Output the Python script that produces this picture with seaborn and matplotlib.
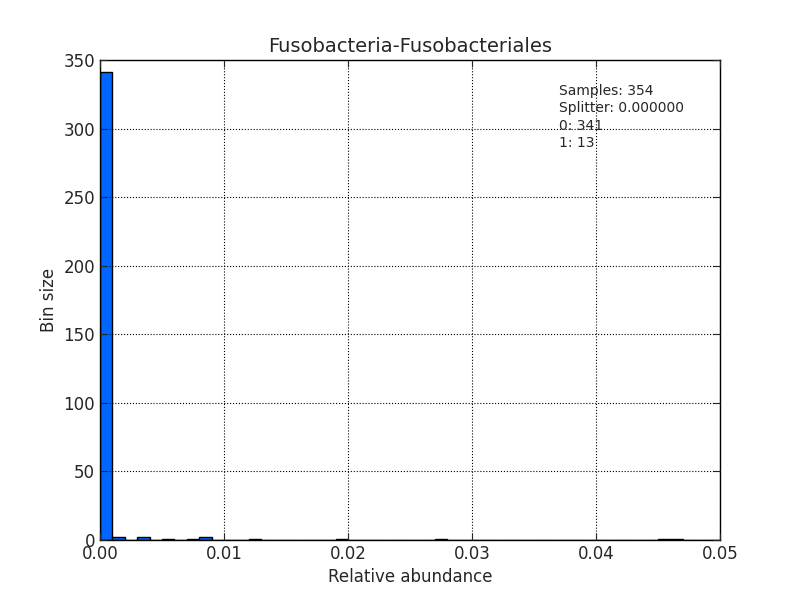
import matplotlib
matplotlib.use("Agg")
import matplotlib.pyplot as plt
import seaborn as sns
import numpy as np
import pandas as pd

bin_starts = [0.000, 0.001, 0.003, 0.005, 0.007, 0.008, 0.012, 0.019, 0.027, 0.045, 0.046]
counts     = [341,   2,     2,     1,     1,     2,     1,     1,     1,     1,     1]

sns.set_style("white")
fig, ax = plt.subplots(figsize=(8, 6), dpi=100)
df = pd.DataFrame({"x": [b + 0.0005 for b in bin_starts], "w": counts})
sns.histplot(data=df, x="x", weights="w", binwidth=0.001, binrange=(0, 0.05), ax=ax,
             color="#0066ff", edgecolor="black", linewidth=1, alpha=1)
ax.set_xlim(0, 0.05)
ax.set_ylim(0, 350)
ax.set_xticks([0, 0.01, 0.02, 0.03, 0.04, 0.05])
ax.set_xticklabels(["0.00", "0.01", "0.02", "0.03", "0.04", "0.05"])
ax.grid(True, linestyle=":", color="black", linewidth=0.8)
ax.set_axisbelow(False)
for s in ax.spines.values():
    s.set_color("black"); s.set_linewidth(1)
ax.tick_params(labelsize=12, direction="in", length=5, top=True, right=True, bottom=True, left=True)
ax.set_title("Fusobacteria-Fusobacteriales", fontsize=14)
ax.set_xlabel("Relative abundance", fontsize=12)
ax.set_ylabel("Bin size", fontsize=12)
ax.text(0.74, 0.95, "Samples: 354\nSplitter: 0.000000\n0: 341\n1: 13", transform=ax.transAxes,
        fontsize=10, va="top", ha="left", linespacing=1.3)
fig.subplots_adjust(left=0.125, right=0.9, bottom=0.1, top=0.9)
fig.savefig("out.png", dpi=100)
